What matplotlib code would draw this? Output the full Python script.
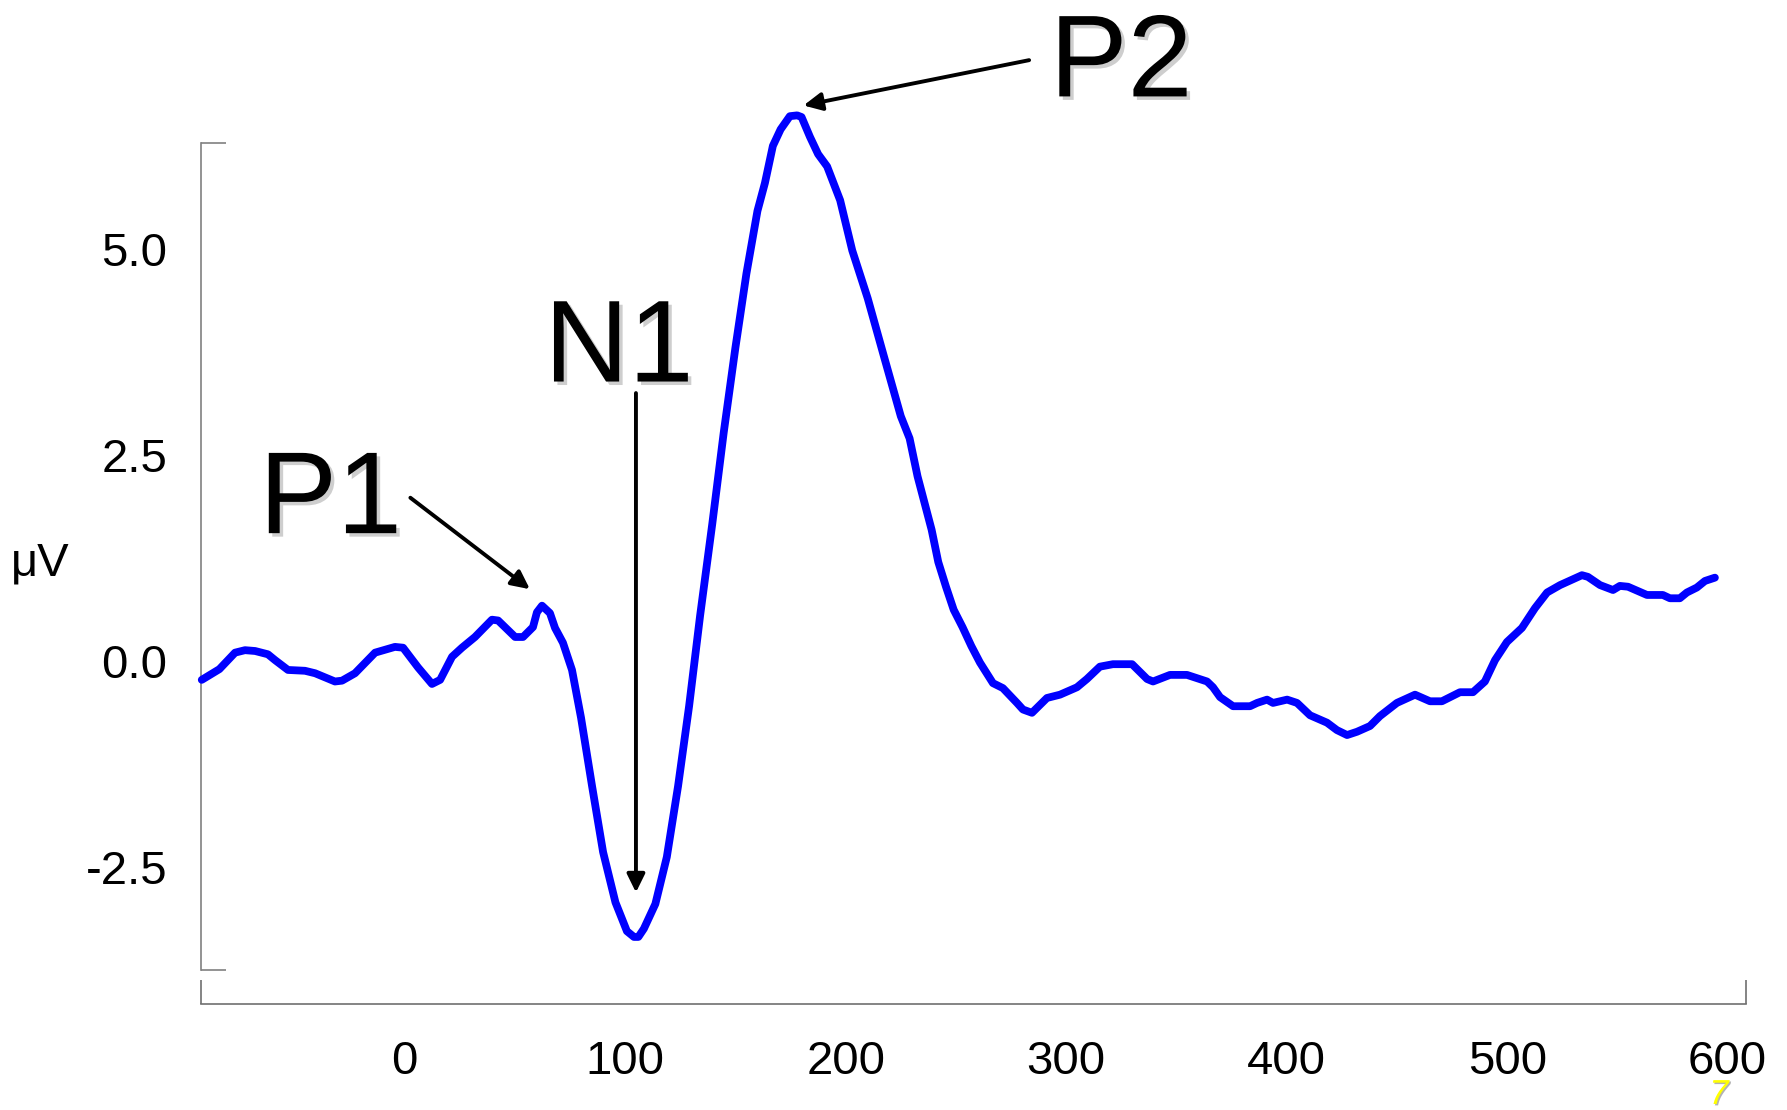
import matplotlib
matplotlib.use("Agg")
import matplotlib.pyplot as plt
import matplotlib.patheffects as pe

plt.rcParams['font.family'] = ['Liberation Sans', 'DejaVu Sans']

# ---- data (time in ms, amplitude in microvolts) ----
time_ms = [-92, -84, -76.9, -72.4, -67.8, -62, -58.8, -52.9, -45.2, -40.6, -31.6, -28.4,
           -22.5, -13.4, -4.4, -0.7, 6.1, 12.4, 16.1, 21.5, 26.0, 31.9, 39.6, 42.4,
           50.1, 53.7, 58.2, 60.0, 62.3, 65.9, 68.2, 71.8, 75.9, 80, 85, 90, 95.6,
           100.8, 104, 106, 108.5, 113.7, 118.9, 124, 129, 134, 139.5, 144.7, 150,
           155, 160, 163.4, 167, 170.5, 174.7, 178, 180, 183.8, 187.5, 191.6, 197.5,
           203, 210, 217, 225, 229, 232.6, 239, 242, 245.5, 249, 253, 257, 260.9, 266.8, 271.3, 277.7,
           280.4, 284.5, 291.3, 297.2, 304.9, 309.4, 315.3, 321.2, 329.9, 336.7,
           339.4, 347.1, 354.8, 363.9, 366.6, 369.8, 375.7, 383.4, 386.6, 391.1,
           393.8, 400.2, 404.7, 410.6, 418.3, 422.8, 427.4, 431.9, 437.8, 442.3,
           450.0, 458.2, 465.0, 470.4, 478.6, 484.5, 489.9, 494.5, 499.9, 506.7,
           512.6, 518.1, 524.0, 533.9, 536.6, 542.1, 548.0, 551.1, 554.8, 563.4,
           570.6, 573.8, 578.3, 581.5, 586.0, 589.7, 594.2]
amp_uv = [-0.23, -0.10, 0.10, 0.13, 0.12, 0.08, 0.01, -0.11, -0.12, -0.15, -0.25, -0.24,
          -0.15, 0.10, 0.17, 0.16, -0.08, -0.28, -0.23, 0.05, 0.16, 0.29, 0.50, 0.49,
          0.29, 0.29, 0.41, 0.59, 0.67, 0.58, 0.40, 0.22, -0.11, -0.69, -1.52, -2.32, -2.93,
          -3.28, -3.35, -3.35, -3.25, -2.95, -2.38, -1.52, -0.55, 0.55, 1.66, 2.77, 3.80,
          4.70, 5.46, 5.80, 6.25, 6.45, 6.61, 6.62, 6.60, 6.36, 6.15, 6.00, 5.59,
          4.98, 4.40, 3.73, 2.97, 2.70, 2.24, 1.59, 1.20, 0.90, 0.62, 0.41, 0.18, -0.02, -0.27, -0.33, -0.51,
          -0.59, -0.63, -0.45, -0.41, -0.32, -0.22, -0.07, -0.04, -0.04, -0.22,
          -0.25, -0.17, -0.17, -0.25, -0.32, -0.44, -0.55, -0.55, -0.51, -0.47,
          -0.51, -0.47, -0.51, -0.66, -0.75, -0.84, -0.90, -0.86, -0.79, -0.67,
          -0.51, -0.41, -0.49, -0.49, -0.38, -0.38, -0.25, 0.01, 0.23, 0.40,
          0.64, 0.83, 0.92, 1.04, 1.02, 0.92, 0.86, 0.91, 0.90, 0.80,
          0.80, 0.76, 0.76, 0.83, 0.89, 0.97, 1.01]

x_ticks = [0, 100, 200, 300, 400, 500, 600]
x_tick_labels = ['0', '100', '200', '300', '400', '500', '600']
y_ticks = [-2.5, 0.0, 2.5, 5.0]
y_tick_labels = ['-2.5', '0.0', '2.5', '5.0']

# component labels: (text, text x, text baseline y, arrow tail, arrow tip)
comp_names = ['P1', 'N1', 'P2']
comp_text_xy = [(-33.6, 1.55), (97.2, 3.39), (324.9, 6.85)]
comp_arrow_tail = [(2.6, 1.98), (104.9, 3.25), (283.2, 7.29)]
comp_arrow_tip = [(56.8, 0.87), (104.9, -2.81), (180.9, 6.74)]

# axis bracket extents
x_axis_span = (-92.5, 608.3)
y_axis_span = (-3.75, 6.28)
x_axis_at = -4.16

fig = plt.figure(figsize=(17.87, 11.10), dpi=100)
ax = fig.add_axes([0, 0, 1, 1])
ax.set_xlim(-183.5, 626.9)
ax.set_ylim(-5.45, 8.02)

ax.plot(time_ms, amp_uv, color='#0000ff', lw=5.6, solid_joinstyle='round',
        solid_capstyle='round', zorder=3)

for s in ['top', 'right']:
    ax.spines[s].set_visible(False)
ax.spines['left'].set_position(('data', x_axis_span[0]))
ax.spines['left'].set_bounds(*y_axis_span)
ax.spines['bottom'].set_position(('data', x_axis_at))
ax.spines['bottom'].set_bounds(*x_axis_span)
ax.spines['left'].set_color('#808080')
ax.spines['bottom'].set_color('#707070')
ax.spines['left'].set_linewidth(1.2)
ax.spines['bottom'].set_linewidth(1.2)

ax.set_xticks(x_ticks)
ax.set_xticklabels(x_tick_labels)
ax.set_yticks(y_ticks)
ax.set_yticklabels(y_tick_labels)
ax.set_xticks(list(x_axis_span), minor=True)
ax.set_yticks(list(y_axis_span), minor=True)
ax.tick_params(axis='both', which='major', length=0, labelsize=34, colors='black')
ax.tick_params(axis='x', which='major', pad=26)
ax.tick_params(axis='y', which='major', pad=24)
ax.tick_params(axis='x', which='minor', direction='in', length=17, width=1.2, color='#707070')
ax.tick_params(axis='y', which='minor', direction='in', length=18, width=1.2, color='#808080')

shadow = [pe.withSimplePatchShadow(offset=(2.5, -2.5), shadow_rgbFace='0.45', alpha=0.35)]
for name, txy, tail, tip in zip(comp_names, comp_text_xy, comp_arrow_tail, comp_arrow_tip):
    ax.text(txy[0], txy[1], name, fontsize=84, ha='center', va='baseline',
            color='black', path_effects=shadow, zorder=5)
    ax.annotate('', xy=tip, xytext=tail,
                arrowprops=dict(arrowstyle='-|>,head_length=0.55,head_width=0.27',
                                lw=2.8, color='black', mutation_scale=20,
                                shrinkA=0, shrinkB=0), zorder=4)

fig.text(40.5 / 1787, (1110 - 575) / 1110, 'μV', ha='center', va='baseline', fontsize=34)
fig.text(1719 / 1787, 6 / 1110, '7', ha='center', va='baseline', fontsize=25,
         color='#ffff00', fontstyle='italic',
         path_effects=[pe.withSimplePatchShadow(offset=(1, -1), shadow_rgbFace='0.4', alpha=0.5)])

fig.savefig('out.png', dpi=100)
